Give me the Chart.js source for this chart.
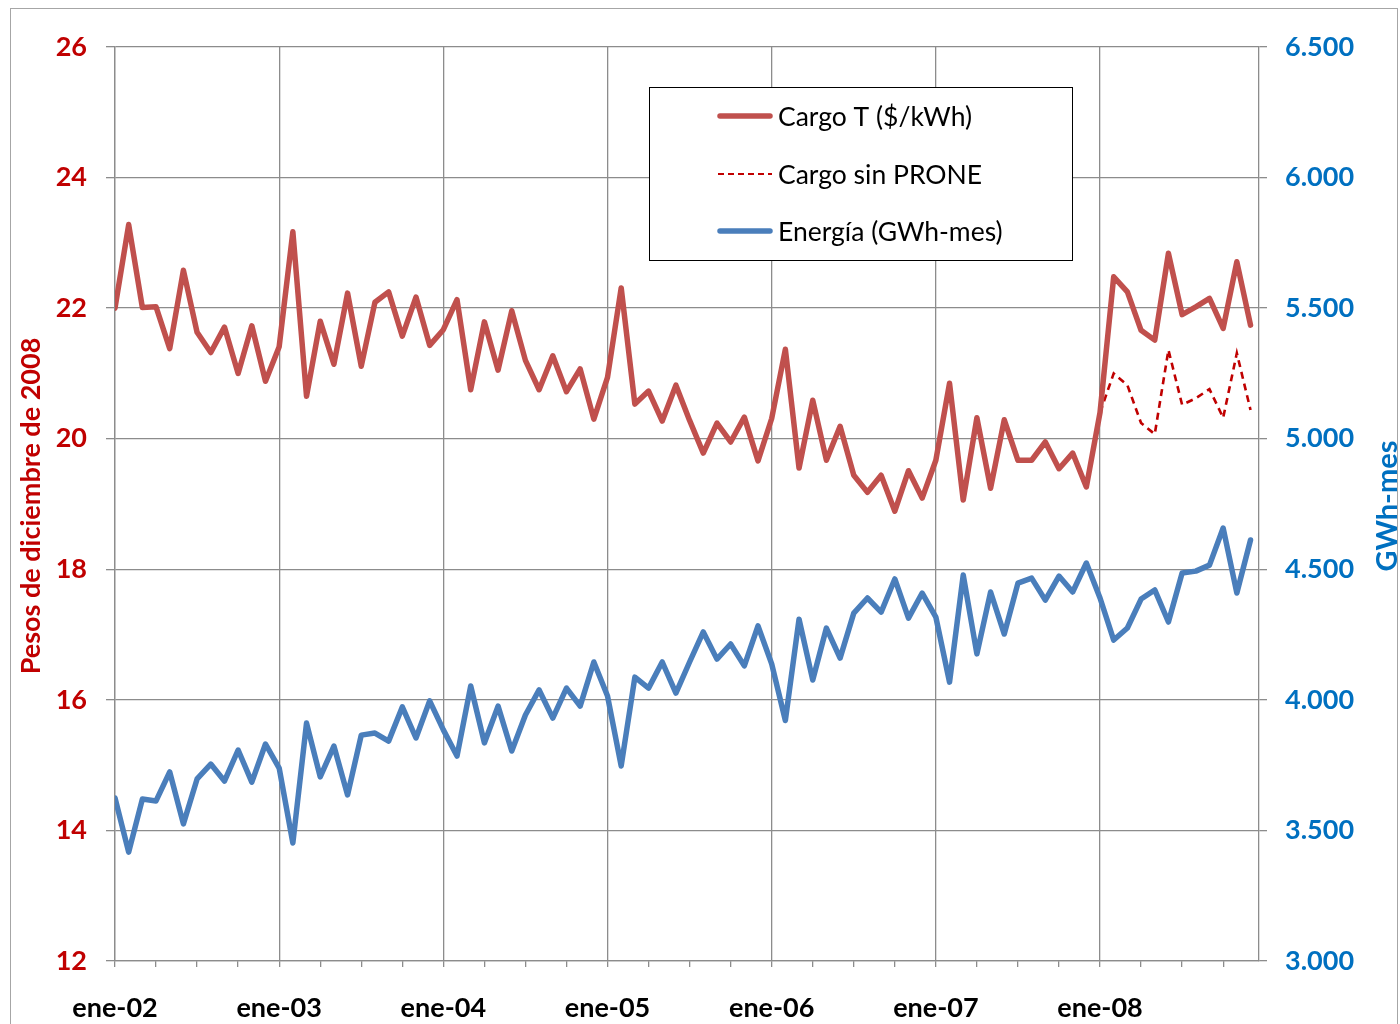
<!DOCTYPE html>
<html>
<head>
<meta charset="utf-8">
<script src="https://cdn.jsdelivr.net/npm/chart.js@4.4.1/dist/chart.umd.min.js"></script>
<style>
  html, body { margin: 0; padding: 0; background: #ffffff; }
  canvas { display: block; }
</style>
</head>
<body>
<canvas id="c" width="1400" height="1024"></canvas>
<script>
// ---- Data (monthly, ene-02 .. dic-08) ----
const yearLabels = ['ene-02', 'ene-03', 'ene-04', 'ene-05', 'ene-06', 'ene-07', 'ene-08'];

const cargoT = [
  22.00, 23.28, 22.01, 22.02, 21.38, 22.58, 21.63, 21.32, 21.71, 21.00, 21.73, 20.88,
  21.41, 23.17, 20.65, 21.80, 21.14, 22.23, 21.11, 22.09, 22.25, 21.57, 22.17, 21.43,
  21.67, 22.13, 20.75, 21.79, 21.05, 21.96, 21.20, 20.75, 21.27, 20.72, 21.07, 20.30,
  20.94, 22.31, 20.53, 20.73, 20.27, 20.82, 20.28, 19.78, 20.24, 19.95, 20.33, 19.66,
  20.31, 21.37, 19.55, 20.59, 19.67, 20.19, 19.44, 19.18, 19.44, 18.89, 19.51, 19.09,
  19.67, 20.85, 19.06, 20.32, 19.24, 20.29, 19.67, 19.67, 19.95, 19.54, 19.78, 19.26,
  20.40, 22.48, 22.25, 21.66, 21.51, 22.84, 21.90, 22.02, 22.15, 21.69, 22.71, 21.74
];

// Cargo sin PRONE: only during 2008 (starts at month index 72)
const sinProneStart = 72;
const cargoSinProne = [20.40, 21.00, 20.82, 20.24, 20.07, 21.36, 20.52, 20.62, 20.76, 20.32, 21.31, 20.44];

const energia = [
  3624, 3417, 3620, 3613, 3724, 3525, 3697, 3754, 3689, 3808, 3685, 3831,
  3739, 3452, 3911, 3705, 3823, 3636, 3865, 3873, 3842, 3973, 3854, 3996,
  3885, 3785, 4053, 3835, 3976, 3804, 3942, 4038, 3930, 4045, 3976, 4145,
  4015, 3747, 4087, 4045, 4145, 4026, 4145, 4260, 4156, 4214, 4130, 4283,
  4138, 3921, 4309, 4076, 4275, 4160, 4332, 4390, 4336, 4463, 4313, 4409,
  4317, 4068, 4478, 4176, 4413, 4252, 4447, 4466, 4382, 4474, 4413, 4524,
  4390, 4229, 4275, 4386, 4421, 4298, 4486, 4493, 4516, 4658, 4409, 4612
];

const seriesNames = ['Cargo T ($/kWh)', 'Cargo sin PRONE', 'Energía (GWh-mes)'];
const leftTitle = 'Pesos de diciembre de 2008';
const rightTitle = 'GWh-mes';

// ---- Build points ----
const ptsCargo = cargoT.map((v, i) => ({ x: i, y: v }));
const ptsSin = cargoSinProne.map((v, i) => ({ x: sinProneStart + i, y: v }));
const ptsEnergia = energia.map((v, i) => ({ x: i, y: v }));

const RED = '#C0504D', DARKRED = '#C00000', BLUE = '#4A7EBB', BLUE_TXT = '#0070C0', GRID = '#8C8C8C';
const FONT = 'Lato, "Noto Sans", "DejaVu Sans", sans-serif';

function fmtThousands(v) {
  const s = Math.round(v).toString();
  return s.replace(/\B(?=(\d{3})+(?!\d))/g, '.');
}

const decorPlugin = {
  id: 'decor',
  beforeDraw(chart) {
    const ctx = chart.ctx;
    ctx.save();
    ctx.fillStyle = '#ffffff';
    ctx.fillRect(0, 0, chart.width, chart.height);
    ctx.strokeStyle = '#A6A6A6';
    ctx.lineWidth = 1;
    ctx.strokeRect(10.5, 8.5, 1387, 1040);
    ctx.restore();
  },
  afterDraw(chart) {
    const ctx = chart.ctx;
    const ca = chart.chartArea;
    const midY = (ca.top + ca.bottom) / 2;
    ctx.save();
    // Axis titles
    ctx.textAlign = 'center';
    ctx.textBaseline = 'middle';
    ctx.font = 'bold 27px ' + FONT;
    ctx.fillStyle = DARKRED;
    ctx.save();
    ctx.translate(31, midY + 2);
    ctx.rotate(-Math.PI / 2);
    ctx.fillText(leftTitle, 0, 0);
    ctx.restore();
    ctx.font = 'bold 29px ' + FONT;
    ctx.fillStyle = BLUE_TXT;
    ctx.save();
    ctx.translate(1388, midY + 2);
    ctx.rotate(-Math.PI / 2);
    ctx.fillText(rightTitle, 0, 0);
    ctx.restore();

    // Legend box
    ctx.fillStyle = '#ffffff';
    ctx.fillRect(649.5, 87.5, 423, 173);
    ctx.strokeStyle = '#000000';
    ctx.lineWidth = 1;
    ctx.strokeRect(649.5, 87.5, 423, 173);
    const rows = [
      { y: 116, color: RED, width: 5.5, dash: [] },
      { y: 174, color: DARKRED, width: 2.2, dash: [6, 4] },
      { y: 231, color: BLUE, width: 5.5, dash: [] }
    ];
    rows.forEach((r, i) => {
      ctx.beginPath();
      ctx.setLineDash(r.dash);
      ctx.lineCap = r.dash.length ? 'butt' : 'round';
      ctx.strokeStyle = r.color;
      ctx.lineWidth = r.width;
      ctx.moveTo(r.dash.length ? 718 : 720, r.y);
      ctx.lineTo(r.dash.length ? 772 : 770, r.y);
      ctx.stroke();
      ctx.setLineDash([]);
      ctx.fillStyle = '#000000';
      ctx.font = '26.5px ' + FONT;
      ctx.textAlign = 'left';
      ctx.textBaseline = 'middle';
      ctx.fillText(seriesNames[i], 778, r.y + 1);
    });
    ctx.restore();
  }
};

new Chart(document.getElementById('c'), {
  type: 'line',
  data: {
    datasets: [
      {
        label: seriesNames[0], data: ptsCargo, yAxisID: 'y',
        borderColor: RED, borderWidth: 5.5, pointRadius: 0, tension: 0,
        borderJoinStyle: 'round', borderCapStyle: 'round', fill: false
      },
      {
        label: seriesNames[1], data: ptsSin, yAxisID: 'y',
        borderColor: DARKRED, borderWidth: 2.6, borderDash: [7, 5], pointRadius: 0, tension: 0,
        fill: false
      },
      {
        label: seriesNames[2], data: ptsEnergia, yAxisID: 'y2',
        borderColor: BLUE, borderWidth: 5.5, pointRadius: 0, tension: 0,
        borderJoinStyle: 'round', borderCapStyle: 'round', fill: false
      }
    ]
  },
  options: {
    responsive: false,
    animation: false,
    layout: { padding: { top: 47, left: 0, right: 0, bottom: 0 } },
    plugins: { legend: { display: false }, tooltip: { enabled: false } },
    scales: {
      x: {
        type: 'linear',
        min: 0,
        max: 83.62,
        afterBuildTicks(scale) {
          const t = [];
          for (let v = 0; v <= 81; v += 3) t.push({ value: v });
          scale.ticks = t;
        },
        afterFit(scale) { scale.height = 63; },
        grid: {
          color: (c) => (c.tick && c.tick.value % 12 === 0) ? GRID : 'rgba(0,0,0,0)',
          tickColor: GRID,
          tickLength: 6,
          lineWidth: 1.3,
          drawTicks: true
        },
        border: { display: true, color: GRID, width: 1.3 },
        ticks: {
          autoSkip: false,
          maxRotation: 0,
          padding: 25,
          color: '#000000',
          font: { family: FONT, size: 27, weight: 'bold' },
          callback: (v) => (v % 12 === 0) ? yearLabels[v / 12] : ''
        }
      },
      y: {
        type: 'linear',
        position: 'left',
        min: 12, max: 26,
        afterBuildTicks(scale) {
          const t = [];
          for (let v = 12; v <= 26; v += 2) t.push({ value: v });
          scale.ticks = t;
        },
        afterFit(scale) { scale.width = 115; },
        grid: { color: GRID, tickColor: GRID, tickLength: 9, lineWidth: 1.3 },
        border: { display: true, color: GRID, width: 1.3 },
        ticks: {
          padding: 19,
          color: DARKRED,
          font: { family: FONT, size: 27, weight: 'bold' }
        }
      },
      y2: {
        type: 'linear',
        position: 'right',
        min: 3000, max: 6500,
        afterBuildTicks(scale) {
          const t = [];
          for (let v = 3000; v <= 6500; v += 500) t.push({ value: v });
          scale.ticks = t;
        },
        afterFit(scale) { scale.width = 141; },
        grid: { drawOnChartArea: false, color: GRID, tickColor: GRID, tickLength: 8, lineWidth: 1.3 },
        border: { display: true, color: GRID, width: 1.3 },
        ticks: {
          padding: 18,
          color: BLUE_TXT,
          font: { family: FONT, size: 27, weight: 'bold' },
          callback: (v) => fmtThousands(v)
        }
      }
    }
  },
  plugins: [decorPlugin]
});
</script>
</body>
</html>
